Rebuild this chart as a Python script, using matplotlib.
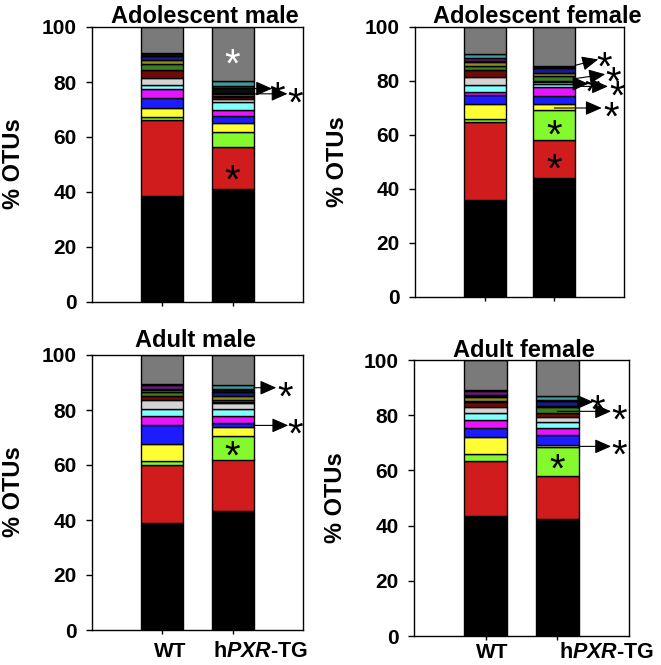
import matplotlib
matplotlib.use('Agg')
import matplotlib.pyplot as plt
from matplotlib.transforms import offset_copy

plt.rcParams['font.family'] = ['Liberation Sans', 'DejaVu Sans']
plt.rcParams['font.weight'] = 'bold'
plt.rcParams['mathtext.fontset'] = 'custom'
plt.rcParams['mathtext.it'] = 'Liberation Sans:italic:bold'
plt.rcParams['mathtext.rm'] = 'Liberation Sans:bold'

# stacked taxa, bottom to top
taxa = ['t1', 't2', 't3', 't4', 't5', 't6', 't7', 't8', 't9', 't10',
        't11', 't12', 't13', 't14', 't15', 'other']
colors = ['#000000', '#d01c1c', '#84fa2e', '#ffff33', '#1c1cff', '#e614ff',
          '#80ffff', '#d4d4d4', '#700a0a', '#3e7d1e', '#8c8c1e', '#1a1a8c',
          '#0d0d0d', '#6a1a7a', '#3c9c9c', '#7a7a7a']

# % OTUs per group
adol_male_wt = [38.5, 27.6, 1.15, 3.35, 3.65, 3.35, 1.2, 2.6, 2.8, 2.2, 1.5, 1.4, 1.4, 0.0, 0.0, 9.3]
adol_male_tg = [41.0, 15.4, 5.6, 3.0, 2.5, 2.4, 3.0, 1.0, 0.6, 0.5, 0.5, 0.6, 1.6, 0.9, 1.6, 19.8]
adol_female_wt = [35.9, 29.0, 1.1, 5.3, 3.7, 1.1, 2.6, 2.6, 2.6, 1.6, 1.5, 0.4, 0.0, 0.95, 1.65, 10.0]
adol_female_tg = [44.2, 13.95, 11.15, 2.1, 3.0, 3.25, 1.35, 0.5, 0.6, 1.6, 1.3, 2.0, 0.0, 0.2, 0.2, 14.6]
adult_male_wt = [39.0, 20.9, 1.5, 6.3, 7.0, 3.1, 2.7, 3.0, 1.6, 1.6, 0.4, 0.4, 0.0, 1.5, 0.3, 10.7]
adult_male_tg = [43.3, 18.7, 8.7, 3.3, 1.2, 2.6, 2.7, 2.1, 0.4, 0.8, 1.4, 1.3, 1.0, 0.3, 1.2, 11.0]
adult_female_wt = [43.6, 19.8, 2.6, 6.15, 3.3, 2.75, 2.7, 2.2, 1.8, 0.4, 1.3, 0.3, 0.4, 1.4, 0.6, 10.7]
adult_female_tg = [42.4, 15.5, 10.7, 0.5, 3.7, 2.6, 2.1, 1.8, 1.6, 2.0, 0.5, 1.6, 0.0, 0.4, 1.4, 13.2]

titles = ['Adolescent male', 'Adolescent female', 'Adult male', 'Adult female']

# arrows: (x start, y start, x tip, y tip, x star, y star)
arrows_adol_male = [(1.3, 77.6, 1.56, 77.6, 1.63, 77.8),
                    (1.3, 75.7, 1.78, 75.7, 1.89, 75.7)]
arrows_adol_female = [(1.3, 85.8, 1.63, 88.0, 1.72, 88.6),
                      (1.3, 80.9, 1.73, 82.5, 1.85, 82.9),
                      (1.3, 79.0, 1.49, 79.0, 1.55, 79.2),
                      (1.3, 78.0, 1.77, 78.0, 1.90, 77.8),
                      (1.0, 70.0, 1.68, 70.0, 1.81, 70.0)]
arrows_adult_male = [(1.3, 88.1, 1.62, 88.1, 1.74, 88.1),
                     (1.3, 74.4, 1.79, 74.4, 1.89, 74.4)]
arrows_adult_female = [(1.3, 84.8, 1.50, 84.8, 1.56, 84.9),
                       (1.0, 81.4, 1.75, 81.4, 1.87, 81.4),
                       (1.3, 68.7, 1.75, 68.7, 1.87, 68.7)]

# stars inside bars: (x, y, colour)
stars_adol_male = [(1.0, 89.8, 'white'), (1.0, 47.4, 'black')]
stars_adol_female = [(1.0, 63.3, 'black'), (1.0, 50.6, 'black')]
stars_adult_male = [(1.0, 66.4, 'black')]
stars_adult_female = [(1.0, 63.7, 'black')]

panels = [
    (adol_male_wt, adol_male_tg, arrows_adol_male, stars_adol_male, (92, 27, 303, 302)),
    (adol_female_wt, adol_female_tg, arrows_adol_female, stars_adol_female, (415, 27, 624, 297)),
    (adult_male_wt, adult_male_tg, arrows_adult_male, stars_adult_male, (92, 355, 303, 630)),
    (adult_female_wt, adult_female_tg, arrows_adult_female, stars_adult_female, (414, 360, 629, 636)),
]

W, H = 661, 665
fig = plt.figure(figsize=(W / 100, H / 100), dpi=100)


def star(ax, x, y, color):
    # '*' glyph sits high in its box, pull it down onto the point
    tr = offset_copy(ax.transData, fig=fig, y=-7.5, units='points')
    ax.text(x, y, '*', fontsize=29, ha='center', va='center', color=color,
            fontweight='normal', transform=tr, clip_on=False)


for wt, tg, arrows, stars, (l, t, r, b) in panels:
    ax = fig.add_axes([l / W, 1 - b / H, (r - l) / W, (b - t) / H])
    bottom = [0.0, 0.0]
    for i, col in enumerate(colors):
        vals = [wt[i], tg[i]]
        if vals[0] == 0 and vals[1] == 0:
            continue
        ax.bar([0, 1], vals, bottom=bottom, width=0.6, color=col,
               edgecolor='black', linewidth=1.0)
        bottom = [bottom[0] + vals[0], bottom[1] + vals[1]]
    ax.set_xlim(-1, 2)
    ax.set_ylim(0, 100)
    ax.set_yticks(range(0, 101, 20))
    ax.set_xticks([0, 1])
    ax.set_xticklabels(['', ''])
    ax.tick_params(axis='y', direction='out', length=4, width=1, pad=7,
                   labelsize=15)
    ax.tick_params(axis='x', direction='out', length=3, width=1)
    for s in ax.spines.values():
        s.set_linewidth(1)
    for x0, y0, x1, y1, xs, ys in arrows:
        ax.annotate('', xy=(x1, y1), xytext=(x0, y0), annotation_clip=False,
                    arrowprops=dict(arrowstyle='-|>,head_length=0.5,head_width=0.22',
                                    mutation_scale=20, color='black', lw=0.8,
                                    shrinkA=0, shrinkB=0))
        star(ax, xs, ys, 'black')
    for xs, ys, c in stars:
        star(ax, xs, ys, c)


def ftext(px, py, s, **kw):
    fig.text(px / W, 1 - py / H, s, **kw)


# titles (baseline positions)
ftext(205, 23, titles[0], fontsize=17, ha='center', va='baseline')
ftext(537, 23, titles[1], fontsize=17, ha='center', va='baseline')
ftext(195, 347, titles[2], fontsize=17, ha='center', va='baseline')
ftext(524, 357, titles[3], fontsize=17, ha='center', va='baseline')

# y labels
for px, py in [(14, 164), (337, 162), (14, 492), (336, 498)]:
    ftext(px, py, '% OTUs', fontsize=17, rotation=90, ha='center', va='center')

# x group labels
ftext(154, 657, 'WT', fontsize=15, ha='left', va='baseline')
ftext(213, 657, r'h$\it{PXR}$-TG', fontsize=15.5, ha='left', va='baseline')
ftext(476, 658, 'WT', fontsize=15, ha='left', va='baseline')
ftext(559, 658, r'h$\it{PXR}$-TG', fontsize=15.5, ha='left', va='baseline')

fig.savefig('out.png', dpi=100)
